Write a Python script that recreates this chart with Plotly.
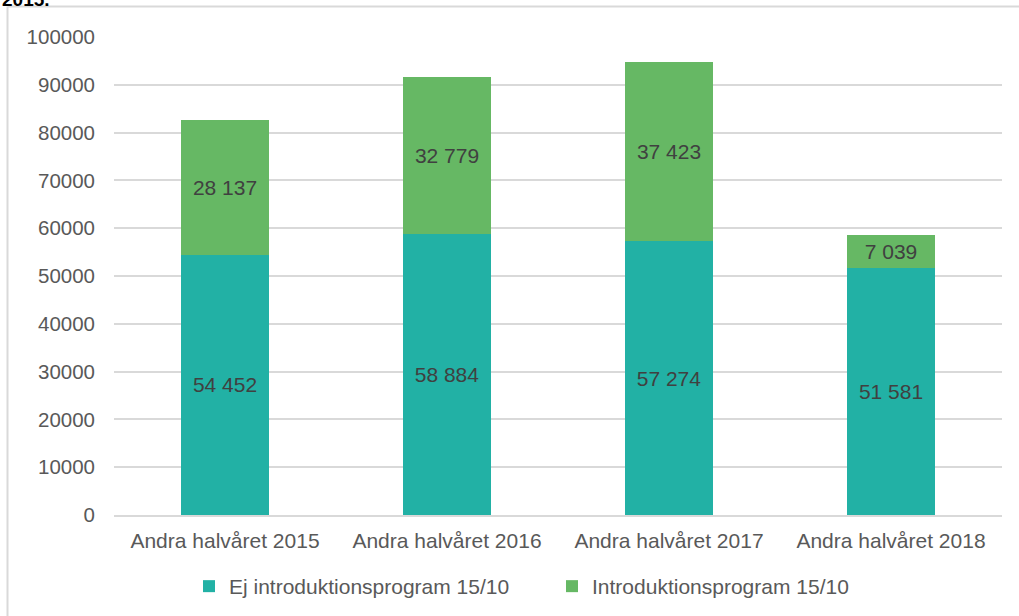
import plotly.graph_objects as go

categories = ["Andra halvåret 2015", "Andra halvåret 2016", "Andra halvåret 2017", "Andra halvåret 2018"]
ej_intro = [54452, 58884, 57274, 51581]
intro = [28137, 32779, 37423, 7039]
series_names = ["Ej introduktionsprogram 15/10", "Introduktionsprogram 15/10"]
tick_vals = [0, 10000, 20000, 30000, 40000, 50000, 60000, 70000, 80000, 90000, 100000]

def fmt(v):
    return f"{v:,}".replace(",", " ")

FONT = "Liberation Sans, Arial, sans-serif"
fig = go.Figure()
fig.add_trace(go.Bar(x=categories, y=ej_intro, name=series_names[0],
                     marker=dict(color="#22B1A5", line=dict(width=0)),
                     text=[fmt(v) for v in ej_intro], textposition="inside",
                     insidetextanchor="middle",
                     textfont=dict(color="#404040", size=21, family=FONT)))
fig.add_trace(go.Bar(x=categories, y=intro, name=series_names[1],
                     marker=dict(color="#66B864", line=dict(width=0)),
                     text=[fmt(v) for v in intro], textposition="inside",
                     insidetextanchor="middle",
                     textfont=dict(color="#404040", size=21, family=FONT)))

fig.update_layout(
    barmode="stack", bargap=0.6,
    width=1019, height=616,
    margin=dict(l=114, r=17, t=37, b=101, autoexpand=False),
    paper_bgcolor="white", plot_bgcolor="white",
    font=dict(family=FONT, color="#595959", size=21),
    uniformtext=dict(minsize=20, mode="show"),
    legend=dict(orientation="h", x=(189-114)/888, xanchor="left", y=-0.1067, yanchor="top",
                font=dict(size=21, color="#595959"), traceorder="normal",
                itemwidth=30, entrywidth=318),
    xaxis=dict(showline=True, linecolor="#D9D9D9", linewidth=1.5, ticks="",
               ticklabelstandoff=6,
               tickfont=dict(size=21, color="#595959")),
    yaxis=dict(range=[0, 100000], tickvals=tick_vals, tickformat="d",
               showgrid=True, gridcolor="#D9D9D9", gridwidth=1.5, zeroline=False,
               ticks="", ticklabelstandoff=18,
               tickfont=dict(size=20.5, color="#595959")),
)

# outer chart frame (cropped chart border)
fig.add_shape(type="line", xref="paper", yref="paper", x0=(7.5-114)/888, x1=(7.5-114)/888,
              y0=(515-6.5)/478, y1=-0.3, line=dict(color="#D9D9D9", width=2))
fig.add_shape(type="line", xref="paper", yref="paper", x0=(7.5-114)/888, x1=1.05,
              y0=(515-6.5)/478, y1=(515-6.5)/478, line=dict(color="#D9D9D9", width=2))

# partially visible title text above the frame (cropped in the reference)
fig.add_annotation(text="<b>2015.</b>", xref="paper", yref="paper",
                   x=(0-114)/888, xanchor="left", y=(515-12)/478, yanchor="bottom",
                   showarrow=False, font=dict(size=19, color="#000000", family=FONT))

fig.write_html("out.html", post_script="document.body.style.margin='0';",
               config={"displayModeBar": False})
